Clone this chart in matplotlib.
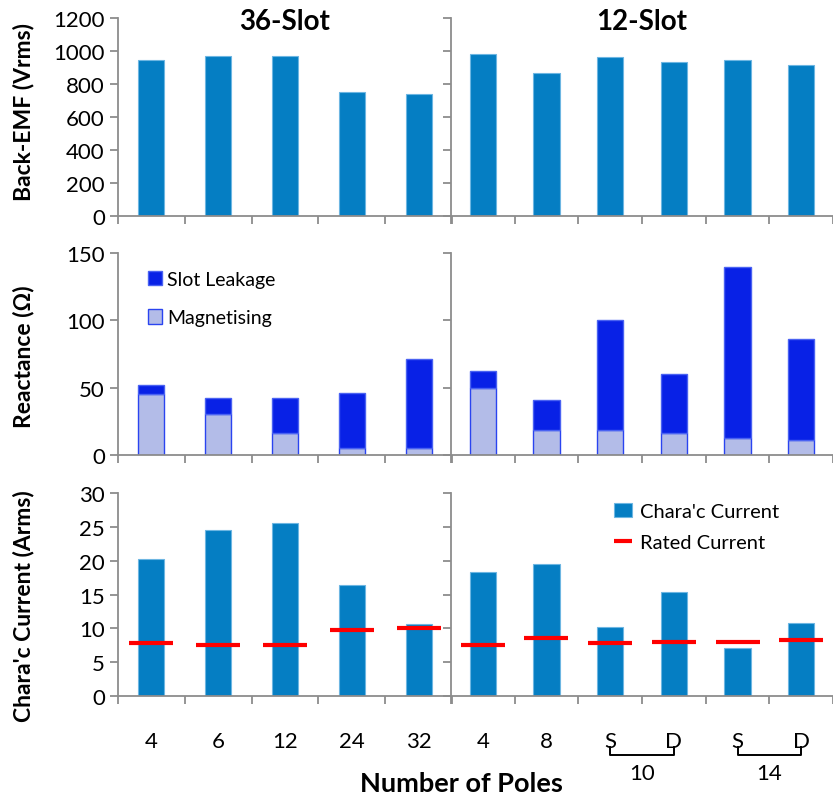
import numpy as np
import matplotlib.pyplot as plt
from matplotlib.transforms import blended_transform_factory

plt.rcParams['font.family'] = ['Lato', 'DejaVu Sans']

# pole labels of the two machine families
poles_36 = ['4', '6', '12', '24', '32']
poles_12 = ['4', '8', 'S', 'D', 'S', 'D']
pair_names = ['10', '14']
pair_index = [(2, 3), (4, 5)]

# back-EMF (Vrms)
emf_36 = [944, 970, 970, 750, 740]
emf_12 = [982, 865, 962, 934, 944, 913]

# reactance (ohm), stacked: magnetising at the bottom, slot leakage on top
mag_36 = [45.0, 30.7, 16.4, 5.5, 5.5]
leak_36 = [7.0, 11.7, 25.8, 40.6, 65.7]
mag_12 = [49.6, 18.6, 18.6, 16.4, 12.4, 11.2]
leak_12 = [13.1, 22.6, 81.6, 44.1, 127.0, 74.6]

# characteristic and rated current (Arms)
char_36 = [20.2, 24.6, 25.6, 16.4, 10.7]
rated_36 = [7.8, 7.6, 7.6, 9.7, 10.0]
char_12 = [18.3, 19.5, 10.2, 15.4, 7.05, 10.85]
rated_12 = [7.6, 8.5, 7.8, 8.0, 8.0, 8.3]

W, H = 833, 803
BAR = '#057EC3'
LEAK = '#0821E6'
MAG = '#B3BCE8'
GREY = '#8C8C8C'
TICK_FS = 16


def rect(x0, y0, x1, y1):
    return [x0 / W, 1 - y1 / H, (x1 - x0) / W, (y1 - y0) / H]


def style(ax, n, right, ylim, yticks, bottom_row):
    for s in ['top', 'right']:
        ax.spines[s].set_visible(False)
    for s in ['left', 'bottom']:
        ax.spines[s].set_color(GREY)
        ax.spines[s].set_linewidth(1.3)
    ax.set_xlim(-0.5, n - 0.53 if right else n - 0.5)
    ax.set_ylim(*ylim)
    ax.set_yticks(yticks)
    ax.set_xticks(np.arange(n + 1) - 0.5)
    ax.set_xticklabels([])
    ax.tick_params(axis='both', which='major', color=GREY, width=1.3,
                   length=6, direction='out', labelsize=TICK_FS)
    if right:
        ax.set_yticklabels([])
    ax.set_xticks(np.arange(n), minor=True)
    ax.tick_params(axis='x', which='minor', length=0, pad=25,
                   labelsize=TICK_FS)
    if not bottom_row:
        ax.set_xticklabels([], minor=True)


fig = plt.figure(figsize=(W / 100, H / 100), dpi=100)

rows = [(19, 217), (254, 456), (494, 697)]
axes = []
for (y0, y1) in rows:
    axl = fig.add_axes(rect(118, y0, 452, y1))
    axr = fig.add_axes(rect(451, y0, 833, y1))
    axes.append((axl, axr))

x36 = np.arange(len(poles_36))
x12 = np.arange(len(poles_12))

# --- back-EMF row
axl, axr = axes[0]
axl.bar(x36, emf_36, width=0.39, color=BAR, edgecolor='#6DB6E2', linewidth=0.8)
axr.bar(x12, emf_12, width=0.41, color=BAR, edgecolor='#6DB6E2', linewidth=0.8)
style(axl, 5, False, (0, 1200), range(0, 1201, 200), False)
style(axr, 6, True, (0, 1200), range(0, 1201, 200), False)
axl.text(0.5, 0.985, '36-Slot', transform=axl.transAxes, ha='center',
         va='center', fontsize=20, fontweight='bold')
axr.text(0.5, 0.985, '12-Slot', transform=axr.transAxes, ha='center',
         va='center', fontsize=20, fontweight='bold')

# --- reactance row
axl, axr = axes[1]
for ax, x, mag, leak, w in [(axl, x36, mag_36, leak_36, 0.39),
                            (axr, x12, mag_12, leak_12, 0.41)]:
    ax.bar(x, mag, width=w, color=MAG, edgecolor='#2A44F0', linewidth=1.0,
           label='Magnetising')
    ax.bar(x, leak, bottom=mag, width=w, color=LEAK, edgecolor='#4A62F2',
           linewidth=1.0, label='Slot Leakage')
style(axl, 5, False, (0, 150), range(0, 151, 50), False)
style(axr, 6, True, (0, 150), range(0, 151, 50), False)
h, l = axl.get_legend_handles_labels()
axl.legend(h[::-1], l[::-1], loc='upper left', bbox_to_anchor=(0.06, 0.96),
           frameon=False, fontsize=14, handlelength=0.75, handleheight=0.75,
           handletextpad=0.25, labelspacing=1.1, borderpad=0)

# --- current row
axl, axr = axes[2]
for ax, x, char, rated, w in [(axl, x36, char_36, rated_36, 0.39),
                              (axr, x12, char_12, rated_12, 0.41)]:
    ax.bar(x, char, width=w, color=BAR, edgecolor='#6DB6E2', linewidth=0.8,
           label="Chara'c Current")
    ax.plot(x, rated, ls='none', marker='_', ms=31, mew=3, color='#FF0000',
            label='Rated Current')
style(axl, 5, False, (0, 30), range(0, 31, 5), True)
style(axr, 6, True, (0, 30), range(0, 31, 5), True)
axl.set_xticklabels(poles_36, minor=True)
axr.set_xticklabels(poles_12, minor=True)
h, l = axr.get_legend_handles_labels()
axr.legend(h[::-1], l[::-1], loc='upper left', bbox_to_anchor=(0.4, 1.0),
           frameon=False, fontsize=14.5, handlelength=0.9, handleheight=0.7,
           handletextpad=0.4, labelspacing=0.7, borderpad=0, markerscale=0.4)

# brackets grouping S / D under 10 and 14 poles
tr = blended_transform_factory(axr.transData, axr.transAxes)
for (a, b), name in zip(pair_index, pair_names):
    axr.plot([a, a, b, b], [-0.25, -0.29, -0.29, -0.25], color='black',
             lw=1.4, transform=tr, clip_on=False)
    axr.text((a + b) / 2, -0.38, name, transform=tr, ha='center',
             va='center', fontsize=TICK_FS)

# axis titles
fig.text(24 / W, 1 - 112 / H, 'Back-EMF (Vrms)', rotation=90, ha='center',
         va='center', fontsize=16.5, fontweight='bold')
fig.text(24 / W, 1 - 357 / H, 'Reactance (\u03a9)', rotation=90, ha='center',
         va='center', fontsize=16.5, fontweight='bold')
fig.text(24 / W, 1 - 606 / H, "Chara'c Current (Arms)", rotation=90,
         ha='center', va='center', fontsize=16.5, fontweight='bold')
fig.text(461 / W, 1 - 784 / H, 'Number of Poles', ha='center', va='center',
         fontsize=19.5, fontweight='bold')

fig.savefig('out.png', dpi=100)
